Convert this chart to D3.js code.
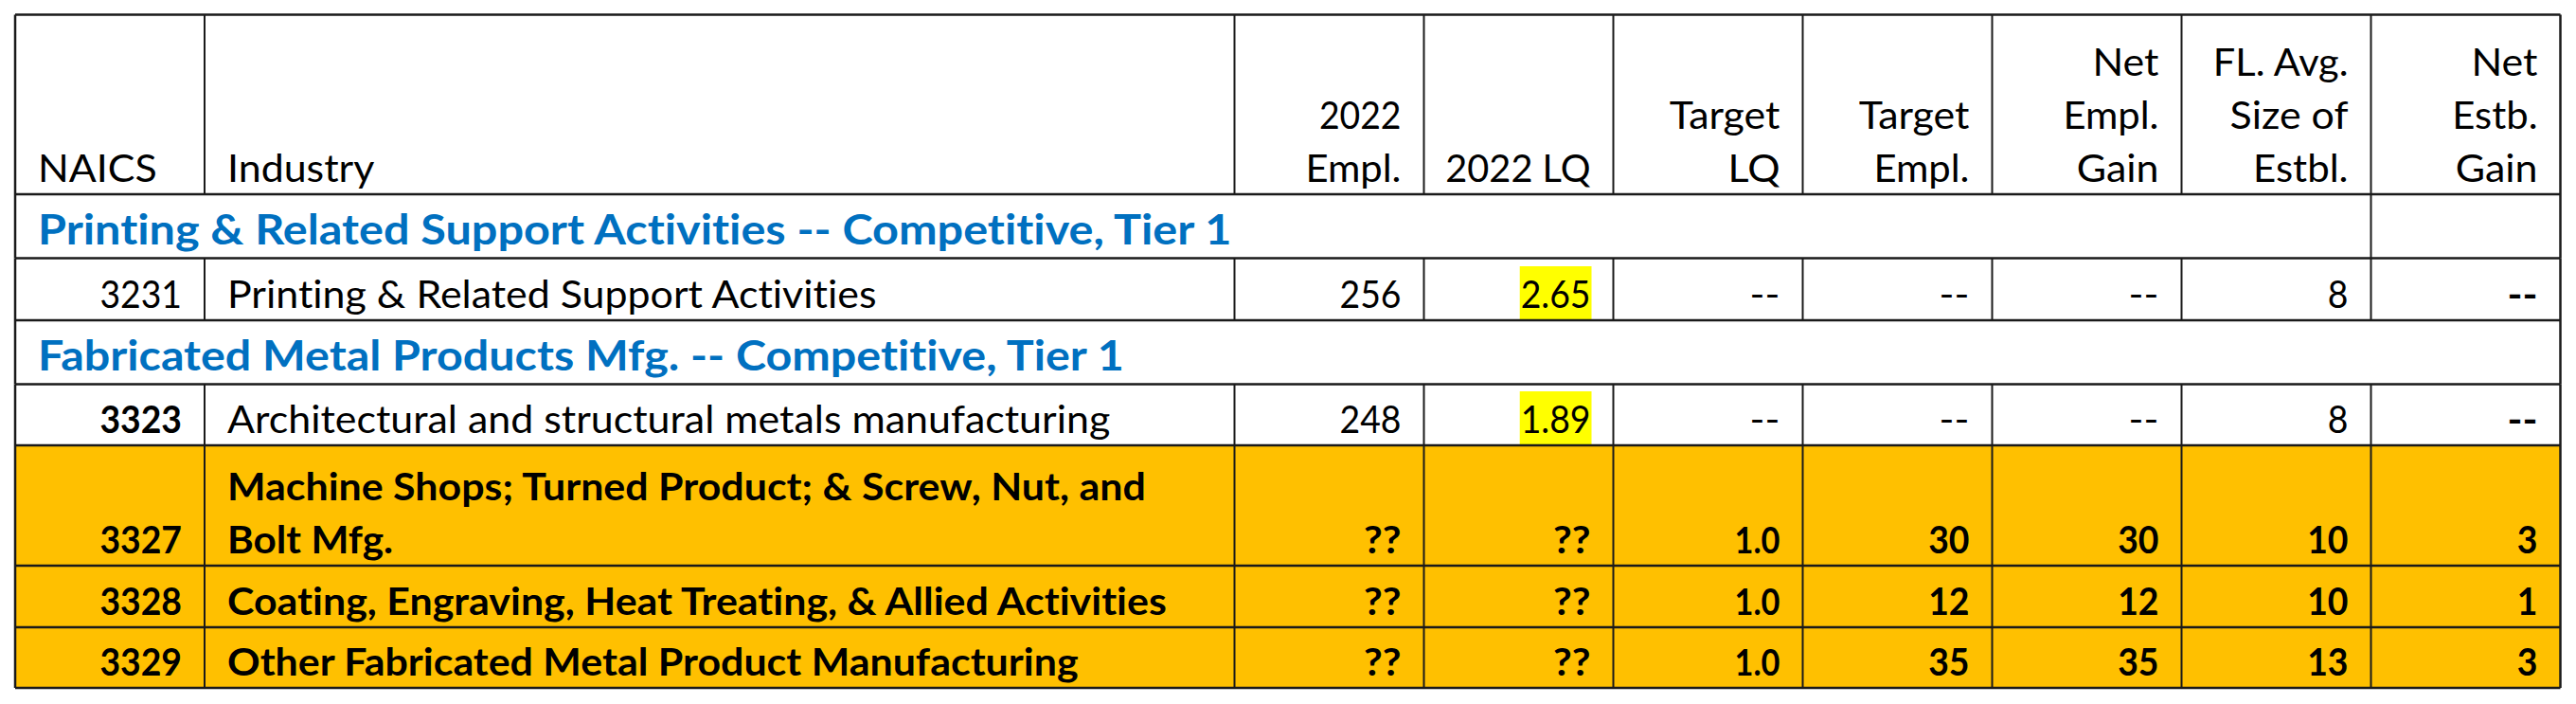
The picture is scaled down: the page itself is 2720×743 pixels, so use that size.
<!DOCTYPE html>
<html><head><meta charset="utf-8">
<script src="https://cdn.jsdelivr.net/npm/d3@7"></script>
<style>html,body{margin:0;padding:0;background:#fff;} svg{display:block;} text{font-variant-ligatures:none;font-feature-settings:"liga" 0;}</style>
</head><body><svg id="c" width="2720" height="743"></svg>
<script>
// ---------- data ----------
const headers = [["NAICS"],["Industry"],["2022","Empl."],["2022 LQ"],["Target","LQ"],["Target","Empl."],["Net","Empl.","Gain"],["FL. Avg.","Size of","Estbl."],["Net","Estb.","Gain"]];
const groups = ["Printing & Related Support Activities -- Competitive, Tier 1","Fabricated Metal Products Mfg. -- Competitive, Tier 1"];
const groupOf = [0, 1, 1, 1, 1];
const naics = ["3231","3323","3327","3328","3329"];
const industries = [["Printing & Related Support Activities"],["Architectural and structural metals manufacturing"],["Machine Shops; Turned Product; & Screw, Nut, and","Bolt Mfg."],["Coating, Engraving, Heat Treating, & Allied Activities"],["Other Fabricated Metal Product Manufacturing"]];
const empl2022 = ["256","248","??","??","??"];
const lq2022 = ["2.65","1.89","??","??","??"];
const targetLQ = ["--","--","1.0","1.0","1.0"];
const targetEmpl = ["--","--","30","12","35"];
const netEmplGain = ["--","--","30","12","35"];
const avgSize = ["8","8","10","10","13"];
const netEstbGain = ["--","--","3","1","3"];
const targeted = [false,false,true,true,true];

// ---------- layout / style ----------
const FONT = "Lato";
const FS = 40.5, SX = 1.06, DIGIT_SHRINK = 0.13;
const colUnits = [200,1087.5,200,200,200,200,200,200,200];
const rowH = [189.5,67.5,65.5,67.5,64.5,127,65,64];
const x = d3.scaleLinear().domain([0, d3.sum(colUnits)]).range([16, 2703.5]);
const colEdges = [0]; colUnits.forEach(u => colEdges.push(colEdges[colEdges.length-1]+u));
const rowEdges = [15.5]; rowH.forEach(h => rowEdges.push(rowEdges[rowEdges.length-1]+h));
const LINE = 56, BASE_OFF = 13.5, PAD = 24;
const BLUE = "#0070C0", ORANGE = "#FFC000", YELLOW = "#FFFF00", INK = "#000";

const svg = d3.select("#c");
const gBg = svg.append("g"), gHl = svg.append("g"), gTx = svg.append("g"), gLn = svg.append("g");

function digitFactor(s) {
  const n = (s.match(/[0-9.]/g) || []).length;
  return 1 - DIGIT_SHRINK * n / Math.max(1, s.length);
}
function txt(s, px, py, o = {}) {
  const sx = SX * (o.sx || 1) * digitFactor(s);
  const t = gTx.append("text")
    .attr("transform", `translate(${px},${py}) scale(${sx},1)`)
    .attr("text-anchor", o.anchor || "end")
    .attr("font-family", FONT)
    .attr("font-size", (o.size || 1) * FS)
    .attr("font-weight", o.bold ? 700 : 400)
    .attr("fill", o.fill || INK)
    .text(s);
  t.property("__sx", sx);
  return t;
}
const colL = i => x(colEdges[i]), colR = i => x(colEdges[i+1]);

// ---------- build row list ----------
const rows = [{type:"header"}];
naics.forEach((n, i) => {
  if (i === 0 || groupOf[i] !== groupOf[i-1]) rows.push({type:"group", g: groupOf[i]});
  rows.push({type:"data", i});
});

rows.forEach((r, k) => {
  const top = rowEdges[k], bot = rowEdges[k+1];
  const base = bot - BASE_OFF;
  if (r.type === "header") {
    headers.forEach((lines, c) => {
      const anchor = c < 2 ? "start" : "end";
      const px = c < 2 ? colL(c) + PAD : colR(c) - PAD;
      lines.forEach((l, j) => txt(l, px, base - (lines.length-1-j)*LINE, {anchor}));
    });
  } else if (r.type === "group") {
    txt(groups[r.g], colL(0) + 24, base - 1, {anchor:"start", bold:true, fill:BLUE, size:1.09, sx:1.04});
  } else {
    const i = r.i, b = targeted[i];
    if (b) gBg.append("rect").attr("x", x(0)).attr("y", top).attr("width", x(colEdges[9]) - x(0)).attr("height", bot - top).attr("fill", ORANGE);
    txt(naics[i], colR(0) - PAD, base, {bold: b || i === 1});
    industries[i].forEach((l, j) => txt(l, colL(1) + PAD, base - (industries[i].length-1-j)*LINE, {anchor:"start", bold:b}));
    const vals = [empl2022, lq2022, targetLQ, targetEmpl, netEmplGain, avgSize, netEstbGain];
    vals.forEach((arr, v) => {
      const c = v + 2;
      const t = txt(arr[i], colR(c) - PAD, base, {bold: b || (c === 8), size: (b && c === 4) ? 0.92 : 1});
      if (!b && c === 3) {
        const w = t.node().getComputedTextLength() * t.property("__sx");
        gHl.append("rect").attr("x", colR(c) - PAD - w - 1).attr("y", bot - 57).attr("width", w + 2).attr("height", 56).attr("fill", YELLOW);
      }
    });
  }
});

// ---------- grid lines ----------
const LC = "#1a1a1a";
rowEdges.forEach(y => gLn.append("line").attr("x1", x(0)).attr("x2", x(colEdges[9])).attr("y1", y).attr("y2", y).attr("stroke", LC).attr("stroke-width", 2.5));
rows.forEach((r, k) => {
  const top = rowEdges[k], bot = rowEdges[k+1];
  let cuts;
  if (r.type === "group") cuts = r.g === 0 ? [8] : [];
  else cuts = d3.range(1, 9);
  cuts.forEach(c => gLn.append("line").attr("x1", x(colEdges[c])).attr("x2", x(colEdges[c])).attr("y1", top).attr("y2", bot).attr("stroke", LC).attr("stroke-width", 2));
  [0, 9].forEach(c => gLn.append("line").attr("x1", x(colEdges[c])).attr("x2", x(colEdges[c])).attr("y1", top).attr("y2", bot).attr("stroke", LC).attr("stroke-width", 2.5));
});
</script>
</body></html>
